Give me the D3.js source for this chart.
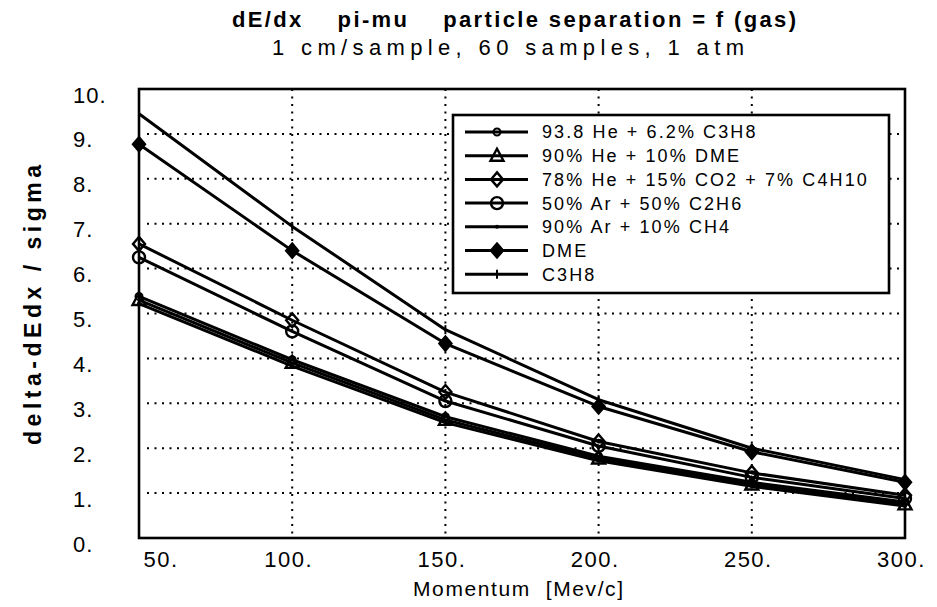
<!DOCTYPE html>
<html>
<head>
<meta charset="utf-8">
<title>dE/dx pi-mu separation</title>
<script src="https://cdn.jsdelivr.net/npm/d3@7"></script>
<style>
  body { margin: 0; background: #fff; }
  svg text { font-family: "Liberation Sans", Arial, sans-serif; fill: #000; }
</style>
</head>
<body>
<script>
// data
var momentum = [50, 100, 150, 200, 250, 300];
var yTicks = [0, 1, 2, 3, 4, 5, 6, 7, 8, 9, 10];
var gasNames = ["93.8 He + 6.2% C3H8", "90% He + 10% DME", "78% He + 15% CO2 + 7% C4H10",
                "50% Ar + 50% C2H6", "90% Ar + 10% CH4", "DME", "C3H8"];
var he938 = [5.38, 3.97, 2.70, 1.82, 1.24, 0.80];
var he90dme = [5.30, 3.90, 2.63, 1.77, 1.19, 0.75];
var he78 = [6.55, 4.85, 3.25, 2.15, 1.45, 0.95];
var ar50 = [6.25, 4.60, 3.05, 2.05, 1.35, 0.88];
var ar90 = [5.22, 3.83, 2.57, 1.72, 1.15, 0.71];
var dme = [8.77, 6.40, 4.33, 2.93, 1.92, 1.24];
var c3h8 = [9.45, 6.94, 4.64, 3.08, 2.00, 1.30];

var width = 937, height = 607;
var series = [he938, he90dme, he78, ar50, ar90, dme, c3h8];
var markers = ["smallcircle", "triangle", "diamond", "circle", "dot", "filldiamond", "tick"];

var svg = d3.select("body").append("svg").attr("width", width).attr("height", height);

var x = d3.scaleLinear().domain([50, 300]).range([139, 905]);
var y = d3.scaleLinear().domain([0, 10]).range([538, 89]);

// dotted grid
var grid = svg.append("g").attr("stroke", "#000").attr("stroke-width", 2)
  .attr("stroke-dasharray", "2,5.5").attr("fill", "none");
grid.selectAll("line.v").data(momentum.slice(1, -1)).enter().append("line")
  .attr("x1", function(d){ return x(d); }).attr("x2", function(d){ return x(d); })
  .attr("y1", y(10)).attr("y2", y(0));
grid.selectAll("line.h").data(yTicks.slice(1, -1)).enter().append("line")
  .attr("x1", x(50) + 8).attr("x2", x(300)).attr("y1", function(d){ return y(d); })
  .attr("y2", function(d){ return y(d); });

function drawMarker(g, type, cx, cy) {
  if (type == "smallcircle") {
    g.append("circle").attr("cx", cx).attr("cy", cy).attr("r", 3.5)
      .attr("fill", "none").attr("stroke", "#000").attr("stroke-width", 2);
  } else if (type == "circle") {
    g.append("circle").attr("cx", cx).attr("cy", cy).attr("r", 6)
      .attr("fill", "none").attr("stroke", "#000").attr("stroke-width", 2.4);
  } else if (type == "triangle") {
    g.append("path").attr("d", "M" + cx + "," + (cy - 7) + "L" + (cx + 6.5) + "," + (cy + 5) + "L" + (cx - 6.5) + "," + (cy + 5) + "Z")
      .attr("fill", "none").attr("stroke", "#000").attr("stroke-width", 2.4);
  } else if (type == "diamond" || type == "filldiamond") {
    g.append("path").attr("d", "M" + cx + "," + (cy - 7) + "L" + (cx + 6) + "," + cy + "L" + cx + "," + (cy + 7) + "L" + (cx - 6) + "," + cy + "Z")
      .attr("fill", type == "filldiamond" ? "#000" : "none").attr("stroke", "#000").attr("stroke-width", 2.4);
  } else if (type == "dot") {
    g.append("circle").attr("cx", cx).attr("cy", cy).attr("r", 2).attr("fill", "#000");
  } else if (type == "tick") {
    g.append("line").attr("x1", cx).attr("x2", cx).attr("y1", cy - 4.5).attr("y2", cy + 4.5)
      .attr("stroke", "#000").attr("stroke-width", 2);
  }
}

var line = d3.line().x(function(d, i){ return x(momentum[i]); }).y(function(d){ return y(d); });

var plot = svg.append("g");
series.forEach(function(s, k) {
  plot.append("path").attr("d", line(s)).attr("fill", "none")
    .attr("stroke", "#000").attr("stroke-width", 3).attr("stroke-linejoin", "round");
});
series.forEach(function(s, k) {
  s.forEach(function(v, i) { drawMarker(plot, markers[k], x(momentum[i]), y(v)); });
});

// legend
var legend = svg.append("g");
legend.append("rect").attr("x", 453).attr("y", 115).attr("width", 436).attr("height", 178)
  .attr("fill", "#fff").attr("stroke", "#000").attr("stroke-width", 2.6);
gasNames.forEach(function(name, k) {
  var ly = 132 + k * 23.7;
  legend.append("line").attr("x1", 465).attr("x2", 528).attr("y1", ly).attr("y2", ly)
    .attr("stroke", "#000").attr("stroke-width", 3);
  drawMarker(legend, markers[k], 497, ly);
  legend.append("text").attr("x", 542).attr("y", ly).attr("dy", "0.36em")
    .attr("font-size", 18).attr("letter-spacing", 2.1).text(name);
});

// frame
svg.append("rect").attr("x", x(50)).attr("y", y(10)).attr("width", x(300) - x(50))
  .attr("height", y(0) - y(10)).attr("fill", "none").attr("stroke", "#000").attr("stroke-width", 2.6);

// axes
var xAxis = svg.append("g").attr("transform", "translate(0," + y(0) + ")")
  .call(d3.axisBottom(x).tickValues(momentum).tickSize(0).tickPadding(13)
    .tickFormat(function(d){ return d + "."; }));
xAxis.select(".domain").remove();
xAxis.selectAll("text").attr("font-size", 22).attr("letter-spacing", 1.5)
  .attr("dx", function(d){ return d == 50 ? 0 : -4; })
  .attr("text-anchor", function(d){ return d == 50 ? "start" : "middle"; })
  .attr("x", function(d){ return d == 50 ? 4 : 0; });

var yAxis = svg.append("g").attr("transform", "translate(" + x(50) + ",0)")
  .call(d3.axisLeft(y).tickValues(yTicks).tickSize(0)
    .tickFormat(function(d){ return d + "."; }));
yAxis.select(".domain").remove();
yAxis.selectAll("text").attr("font-size", 22).attr("letter-spacing", 1)
  .attr("text-anchor", "start").attr("x", 73 - x(50)).attr("y", 6);

// titles
svg.append("text").attr("x", 514).attr("y", 27).attr("text-anchor", "middle")
  .attr("font-size", 22).attr("font-weight", "bold").style("white-space", "pre")
  .attr("textLength", 564).attr("lengthAdjust", "spacing")
  .text("dE/dx    pi-mu    particle separation = f (gas)");
svg.append("text").attr("x", 508).attr("y", 55).attr("text-anchor", "middle")
  .attr("font-size", 22).attr("textLength", 472).attr("lengthAdjust", "spacing")
  .text("1 cm/sample, 60 samples, 1 atm");
svg.append("text").attr("x", 518).attr("y", 596).attr("text-anchor", "middle")
  .attr("font-size", 21).attr("textLength", 210).attr("lengthAdjust", "spacing")
  .text("Momentum  [Mev/c]").style("white-space", "pre");
svg.append("text").attr("transform", "translate(41,305) rotate(-90)").attr("text-anchor", "middle")
  .attr("font-size", 23).attr("font-weight", "bold").attr("textLength", 280).attr("lengthAdjust", "spacing")
  .text("delta-dEdx / sigma");
</script>
</body>
</html>
